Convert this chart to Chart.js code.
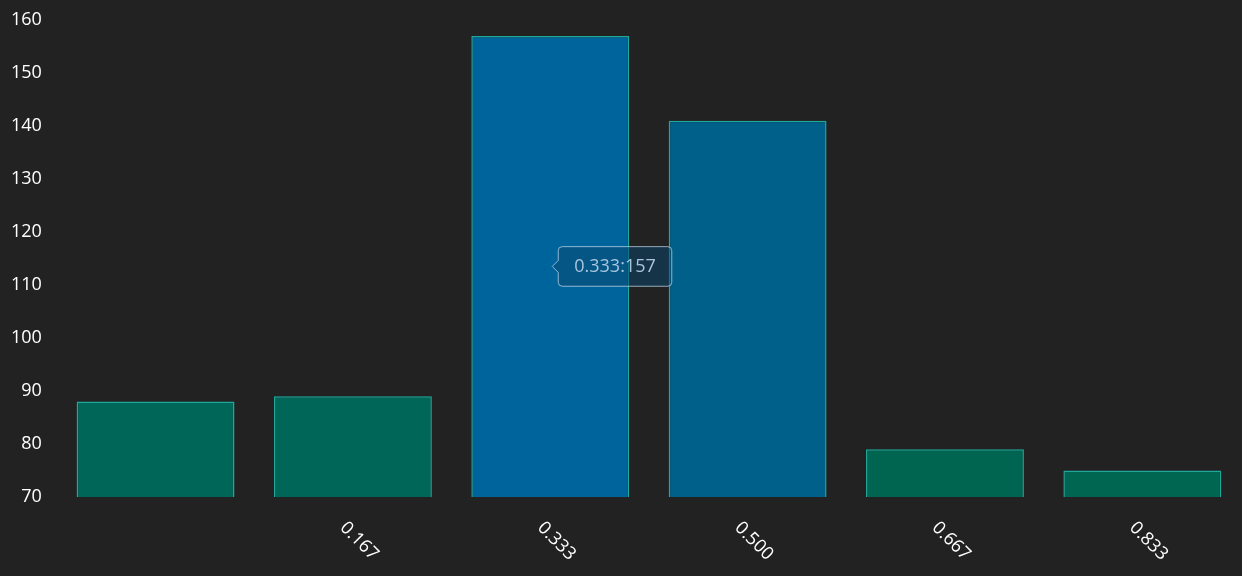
<!DOCTYPE html>
<html>
<head>
<meta charset="utf-8">
<script src="https://cdn.jsdelivr.net/npm/chart.js@4/dist/chart.umd.min.js"></script>
<style>
  html, body { margin: 0; padding: 0; background: #222222; }
  #wrap { width: 1242px; height: 576px; position: relative; }
</style>
</head>
<body>
<div id="wrap"><canvas id="c"></canvas></div>
<script>
const categories = ["", "0.167", "0.333", "0.500", "0.667", "0.833"];
const tooltipKeys = ["0.000", "0.167", "0.333", "0.500", "0.667", "0.833"];
const values = [88, 89, 157, 141, 79, 75];
const yTicks = [70, 80, 90, 100, 110, 120, 130, 140, 150, 160];
const fillColors = ["#006657", "#006657", "#00649c", "#006089", "#006550", "#006652"];
const activeIndex = 2;

Chart.Tooltip.positioners.mid = function (items) {
  if (!items.length) return false;
  const el = items[0].element;
  const area = this.chart.chartArea;
  return { x: el.x, y: (el.y + area.bottom) / 2 };
};

const rotatedLabels = {
  id: 'rotatedLabels',
  afterDatasetsDraw(chart) {
    const ctx = chart.ctx;
    const xs = chart.scales.x;
    ctx.save();
    ctx.font = '18px "Open Sans"';
    ctx.fillStyle = '#ffffff';
    ctx.textAlign = 'left';
    ctx.textBaseline = 'middle';
    categories.forEach((lab, i) => {
      const x = xs.getPixelForValue(i);
      ctx.save();
      ctx.translate(x - 10, chart.chartArea.bottom + 28);
      ctx.rotate(Math.PI / 4);
      ctx.fillText(lab, 0, 0);
      ctx.restore();
    });
    ctx.restore();
  }
};

const chart = new Chart(document.getElementById('c'), {
  type: 'bar',
  data: {
    labels: categories,
    datasets: [{
      data: values,
      backgroundColor: fillColors,
      hoverBackgroundColor: fillColors,
      borderColor: '#1fa89c',
      hoverBorderColor: '#1fa89c',
      borderWidth: 1.5,
      borderSkipped: false,
      categoryPercentage: 0.8,
      barPercentage: 1.0
    }]
  },
  options: {
    responsive: true,
    maintainAspectRatio: false,
    animation: false,
    layout: { padding: { left: 4, right: 1, top: 20, bottom: 71 } },
    scales: {
      x: {
        ticks: { display: false },
        grid: { display: false },
        border: { display: false }
      },
      y: {
        min: 70,
        max: 160,
        afterBuildTicks(axis) { axis.ticks = yTicks.map(v => ({ value: v })); },
        ticks: {
          color: '#ffffff',
          font: { family: 'Open Sans', size: 18 },
          padding: 7
        },
        grid: { display: false },
        border: { display: false }
      }
    },
    plugins: {
      legend: { display: false },
      tooltip: {
        position: 'mid',
        xAlign: 'left',
        yAlign: 'center',
        displayColors: false,
        backgroundColor: 'rgba(10,70,110,0.5)',
        borderColor: 'rgba(190,215,235,0.75)',
        borderWidth: 1,
        cornerRadius: 4,
        caretSize: 6,
        caretPadding: 2,
        padding: { x: 16, y: 9 },
        bodyColor: '#a9c6de',
        bodyFont: { family: 'Open Sans', size: 18 },
        callbacks: {
          title: () => '',
          label: (item) => tooltipKeys[item.dataIndex] + ':' + item.raw
        }
      }
    },
    events: []
  },
  plugins: [rotatedLabels]
});

chart.tooltip.setActiveElements([{ datasetIndex: 0, index: activeIndex }], { x: 0, y: 0 });
chart.update();
</script>
</body>
</html>
